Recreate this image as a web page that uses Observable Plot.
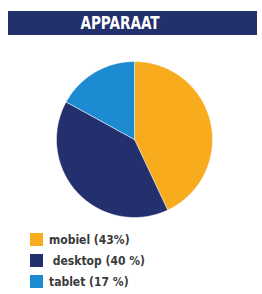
<!DOCTYPE html>
<html><head><meta charset="utf-8">
<script src="https://cdn.jsdelivr.net/npm/d3@7"></script>
<script src="https://cdn.jsdelivr.net/npm/@observablehq/plot@0.6"></script>
<style>
html,body{margin:0;padding:0;background:#fff;}
#wrap{position:relative;width:262px;height:294px;overflow:hidden;}
#title{position:absolute;left:8px;top:11px;width:249px;height:24px;background:#22306c;}
#title span{position:absolute;left:112px;top:0;width:0;text-align:left;white-space:nowrap;color:#fff;
 font-family:"DejaVu Sans Condensed","Liberation Sans Narrow",sans-serif;font-weight:bold;font-size:18px;line-height:24px;}
#title span b{display:inline-block;transform:translateX(-50%) scaleX(0.84);transform-origin:50% 50%;}
#chart{position:absolute;left:0;top:44px;}
#legend{position:absolute;left:30px;top:233px;font-family:"DejaVu Sans Condensed","Liberation Sans Narrow",sans-serif;
 font-weight:bold;font-size:12px;color:#3a3a3a;}
.row{display:flex;align-items:center;height:13px;margin-bottom:8px;}
.sw{width:13px;height:13px;margin-right:6px;flex:none;}
.tx{display:inline-block;white-space:pre;}
</style></head>
<body><div id="wrap"><div id="title"><span><b id="tt"></b></span></div><div id="chart"></div><div id="legend"></div></div>
<script>
const title = "APPARAAT";
const categories = ["mobiel", "desktop", "tablet"];
const values = [43, 40, 17];
const legendLabels = ["mobiel (43%)", " desktop (40 %)", "tablet (17 %)"];
const colors = ["#f8ab1c", "#24306e", "#1c8bd2"];

document.getElementById("tt").textContent = title;

const pie = d3.pie().sort(null).value(d => d.value)(categories.map((c, i) => ({cat: c, value: values[i]})));
const pts = [];
for (const a of pie) {
  const cat = a.data.cat;
  pts.push({cat, x: 0, y: 0});
  const n = Math.max(2, Math.ceil((a.endAngle - a.startAngle) / 0.02));
  for (let k = 0; k <= n; k++) {
    const t = a.startAngle + (a.endAngle - a.startAngle) * k / n;
    pts.push({cat, x: Math.sin(t), y: Math.cos(t)});
  }
  pts.push({cat, x: 0, y: 0});
}

const chart = Plot.plot({
  width: 262, height: 190,
  marginLeft: 56, marginRight: 50, marginTop: 17, marginBottom: 17,
  x: {domain: [-1, 1], axis: null},
  y: {domain: [-1, 1], axis: null},
  color: {domain: categories, range: colors},
  marks: [
    Plot.line(pts, {x: "x", y: "y", z: "cat", fill: "cat", stroke: "#fff", strokeWidth: 0.5, curve: "linear-closed"})
  ]
});
document.getElementById("chart").appendChild(chart);

const leg = document.getElementById("legend");
categories.forEach((c, i) => {
  const row = document.createElement("div"); row.className = "row";
  const sw = document.createElement("div"); sw.className = "sw"; sw.style.background = colors[i];
  const tx = document.createElement("span"); tx.className = "tx"; tx.textContent = legendLabels[i];
  row.appendChild(sw); row.appendChild(tx); leg.appendChild(row);
});
</script></body></html>
